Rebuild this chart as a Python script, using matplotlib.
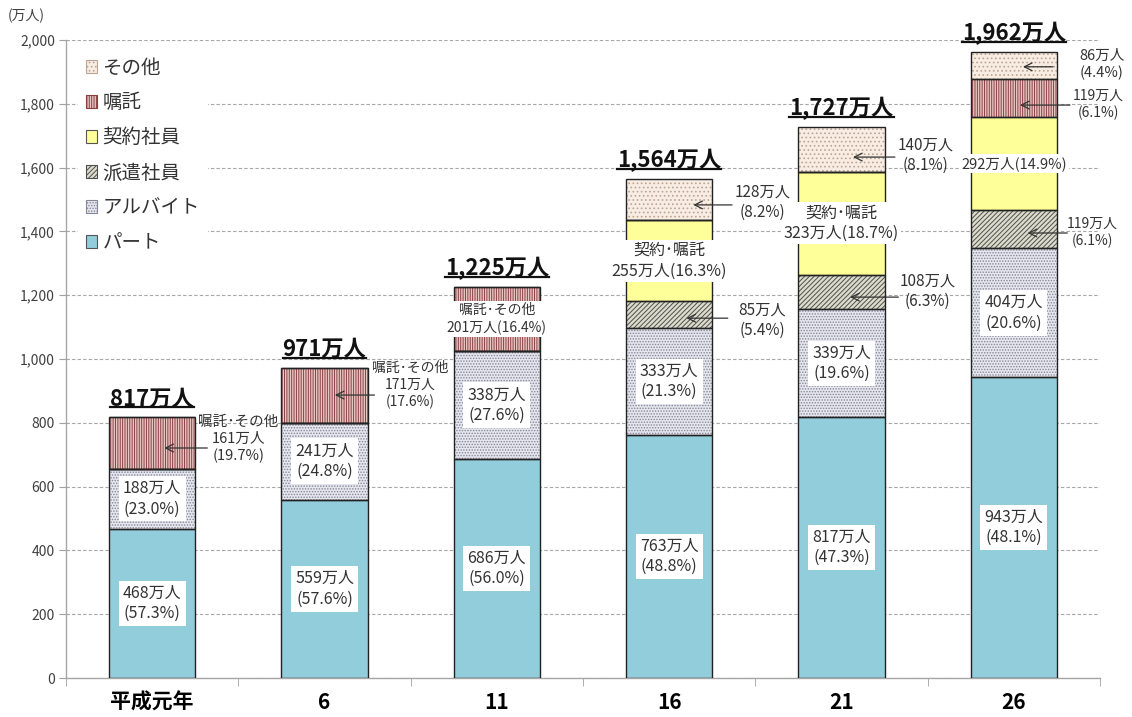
import matplotlib
matplotlib.use('Agg')
import matplotlib.pyplot as plt
import numpy as np
from matplotlib.patches import Patch
from matplotlib.lines import Line2D

plt.rcParams['font.family'] = ['Noto Sans CJK JP', 'DejaVu Sans']
plt.rcParams['hatch.linewidth'] = 0.7

# ---------------- data ----------------
years = ['平成元年', '6', '11', '16', '21', '26']
part = [468, 559, 686, 763, 817, 943]
part_pct = [57.3, 57.6, 56.0, 48.8, 47.3, 48.1]
arbeit = [188, 241, 338, 333, 339, 404]
arbeit_pct = [23.0, 24.8, 27.6, 21.3, 19.6, 20.6]
haken = [0, 0, 0, 85, 108, 119]
haken_pct = [0, 0, 0, 5.4, 6.3, 6.1]
keiyaku = [0, 0, 0, 255, 323, 292]          # 16, 21: 契約・嘱託
keiyaku_pct = [0, 0, 0, 16.3, 18.7, 14.9]
shokutaku = [161, 171, 201, 0, 0, 119]      # 元年-11: 嘱託・その他
shokutaku_pct = [19.7, 17.6, 16.4, 0, 0, 6.1]
sonota = [0, 0, 0, 128, 140, 86]
sonota_pct = [0, 0, 0, 8.2, 8.1, 4.4]
total_labels = ['817万人', '971万人', '1,225万人', '1,564万人', '1,727万人', '1,962万人']
y_ticks = [0, 200, 400, 600, 800, 1000, 1200, 1400, 1600, 1800, 2000]

# ---------------- figure ----------------
fig = plt.figure(figsize=(11.32, 7.17), dpi=100)
ax = fig.add_axes([66 / 1132, 1 - 678 / 717, (1100 - 66) / 1132, (678 - 40) / 717])

series = [
    ('パート', part, part_pct, '#92CDDC', None, None),
    ('アルバイト', arbeit, arbeit_pct, '#E6E6EE', '......', '#85859A'),
    ('派遣社員', haken, haken_pct, '#DCDCCC', '///////', '#4E4E4E'),
    ('契約社員', keiyaku, keiyaku_pct, '#FFFF99', None, None),
    ('嘱託', shokutaku, shokutaku_pct, '#E8C6C6', '|||||||', '#8A3F3F'),
    ('その他', sonota, sonota_pct, '#F8EDE2', '....', '#BCA494'),
]

x = np.arange(len(years))
W = 0.5
bottom = np.zeros(len(years))
bottoms = {}
legend_handles = {}
for name, vals, pct, fc, hatch, hc in series:
    v = np.array(vals, dtype=float)
    ax.bar(x, v, W, bottom=bottom, color=fc, hatch=hatch,
           edgecolor=(hc if hatch else fc), linewidth=0, zorder=2)
    ax.bar(x, v, W, bottom=bottom, fill=False, edgecolor='#222222', linewidth=1.0, zorder=3)
    bottoms[name] = bottom.copy()
    legend_handles[name] = Patch(facecolor=fc, hatch=hatch,
                                 edgecolor=(hc if hatch else '#555555'), linewidth=0.8)
    bottom = bottom + v

# ---------------- axes styling ----------------
ax.set_xlim(-0.5, len(years) - 0.5)
ax.set_ylim(0, 2000)
ax.set_yticks(y_ticks)
ax.set_yticklabels([f'{t:,}' for t in y_ticks], fontsize=10, color='#404040')
ax.set_xticks(x)
ax.set_xticklabels(years, fontsize=15, fontweight='bold', color='black')
ax.set_xticks(np.arange(-0.5, len(years), 1.0), minor=True)
ax.tick_params(axis='x', which='major', length=0, pad=10)
ax.tick_params(axis='x', which='minor', length=6, color='#A0A0A0', direction='out')
ax.tick_params(axis='y', length=5, color='#A0A0A0', pad=3)
for s in ['top', 'right']:
    ax.spines[s].set_visible(False)
for s in ['left', 'bottom']:
    ax.spines[s].set_color('#A6A6A6')
    ax.spines[s].set_linewidth(1.0)
ax.set_axisbelow(True)
ax.yaxis.grid(True, linestyle=(0, (3, 2)), color='#A6A6A6', linewidth=0.8)

fig.text(8 / 1132, 1 - 16 / 717, '(万人)', fontsize=10, color='#404040', va='center', ha='left')

# legend
order = ['その他', '嘱託', '契約社員', '派遣社員', 'アルバイト', 'パート']
leg = ax.legend([legend_handles[n] for n in order], order, loc='upper left',
                bbox_to_anchor=(0.0116, 0.985), borderaxespad=0, borderpad=0.4,
                fontsize=14, labelspacing=0.72, handlelength=0.6, handleheight=0.6,
                handletextpad=0.25, frameon=True, fancybox=False)
leg.get_frame().set_facecolor('white')
leg.get_frame().set_edgecolor('none')
leg.get_frame().set_alpha(1)
for t in leg.get_texts():
    t.set_color('#333333')

# ---------------- labels ----------------
TXT = '#333333'
box = dict(facecolor='white', edgecolor='none', pad=3)


def vlab(v, p, sep='\n'):
    return f'{v}万人{sep}({p:.1f}%)'


# inner labels (centered in segment, white box)
for i in range(len(years)):
    yc = bottoms['パート'][i] + part[i] / 2
    ax.text(x[i], yc, vlab(part[i], part_pct[i]), ha='center', va='center',
            fontsize=11.5, color=TXT, bbox=box, zorder=5, linespacing=1.25)
    yc = bottoms['アルバイト'][i] + arbeit[i] / 2
    ax.text(x[i], yc, vlab(arbeit[i], arbeit_pct[i]), ha='center', va='center',
            fontsize=11.5, color=TXT, bbox=box, zorder=5, linespacing=1.25)

# 11: 嘱託・その他 inside
i = 2
ax.text(x[i], bottoms['嘱託'][i] + shokutaku[i] / 2,
        '嘱託･その他\n' + vlab(shokutaku[i], shokutaku_pct[i], sep=''),
        ha='center', va='center', fontsize=10, color=TXT,
        bbox=dict(facecolor='white', edgecolor='none', pad=1.5), zorder=5, linespacing=1.3)
# 16, 21: 契約・嘱託 inside
for i in (3, 4):
    ax.text(x[i], bottoms['契約社員'][i] + keiyaku[i] / 2,
            '契約･嘱託\n' + vlab(keiyaku[i], keiyaku_pct[i], sep=''),
            ha='center', va='center', fontsize=11.5, color=TXT,
            bbox=dict(facecolor='white', edgecolor='none', pad=1.5), zorder=5, linespacing=1.3)
# 26: 契約社員 inside
i = 5
ax.text(x[i], bottoms['契約社員'][i] + keiyaku[i] / 2,
        vlab(keiyaku[i], keiyaku_pct[i], sep=''),
        ha='center', va='center', fontsize=10.5, color=TXT,
        bbox=dict(facecolor='white', edgecolor='none', pad=1.5), zorder=5)

# arrow labels: (text, text pos, arrow tail, arrow tip, fontsize)
arrow_labels = [
    ('嘱託･その他\n' + vlab(shokutaku[0], shokutaku_pct[0]), (0.50, 749), (0.32, 721), (0.07, 721), 10.5),
    ('嘱託･その他\n' + vlab(shokutaku[1], shokutaku_pct[1]), (1.50, 918), (1.29, 887), (1.06, 887), 10),
    (vlab(haken[3], haken_pct[3]), (3.54, 1122), (3.34, 1128), (3.10, 1128), 11),
    (vlab(sonota[3], sonota_pct[3]), (3.54, 1492), (3.365, 1483), (3.14, 1483), 11),
    (vlab(haken[4], haken_pct[4]), (4.50, 1213), (4.33, 1194), (4.05, 1194), 11),
    (vlab(sonota[4], sonota_pct[4]), (4.49, 1639), (4.31, 1633), (4.067, 1633), 11),
    (vlab(haken[5], haken_pct[5]), (5.454, 1398), (5.31, 1395), (5.08, 1395), 10),
    (vlab(shokutaku[5], shokutaku_pct[5]), (5.49, 1799), (5.326, 1796), (5.036, 1796), 10),
    (vlab(sonota[5], sonota_pct[5]), (5.51, 1922), (5.227, 1916), (5.053, 1916), 10.5),
]
for txt, (tx, ty), tail, tip, fs in arrow_labels:
    ax.text(tx, ty, txt, ha='center', va='center', fontsize=fs, color=TXT,
            zorder=5, linespacing=1.25, clip_on=False)
    ax.annotate('', xy=tip, xytext=tail,
                arrowprops=dict(arrowstyle='->', color='#333333', lw=0.9,
                                shrinkA=0, shrinkB=0, mutation_scale=14),
                zorder=6, annotation_clip=False)

# totals
total_texts = []
for i in range(len(years)):
    t = ax.text(x[i], bottom[i] + 22, total_labels[i], ha='center', va='bottom',
                fontsize=16, fontweight='bold', style='italic', color='#111111',
                clip_on=False, zorder=6)
    total_texts.append(t)

fig.canvas.draw()
r = fig.canvas.get_renderer()
for t in total_texts:
    bb = t.get_window_extent(renderer=r)
    yy = (bb.y0 + 3) / fig.bbox.height
    fig.add_artist(Line2D([bb.x0 / fig.bbox.width, bb.x1 / fig.bbox.width], [yy, yy],
                          color='#111111', linewidth=1.6))

fig.savefig('out.png', dpi=100)
